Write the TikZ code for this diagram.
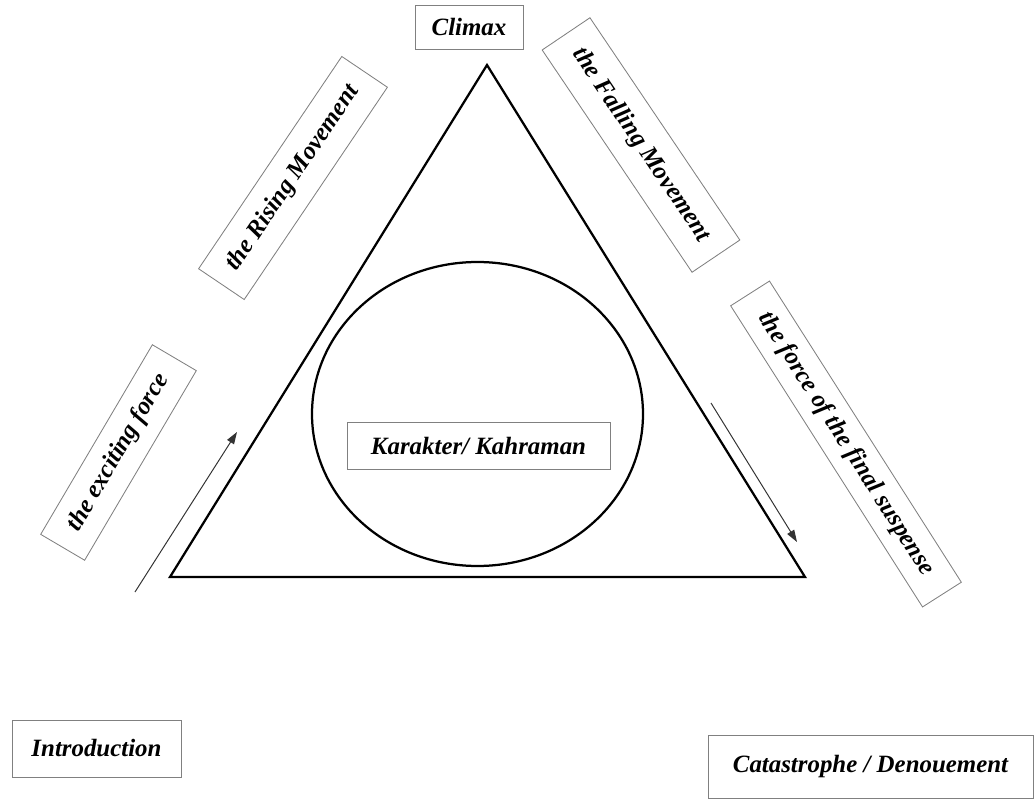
\documentclass[tikz,border=0pt]{standalone}
\usepackage{fontspec}
\setmainfont{Liberation Serif}
\usetikzlibrary{arrows.meta}

\tikzset{
  stagebox/.style={draw=gray, line width=0.6pt, inner sep=0pt,
    font=\bfseries\itshape\fontsize{17.7}{20}\selectfont},
  flow/.style={draw=black!80, line width=0.7pt, -{Triangle[length=0.3cm,width=0.2cm]}}
}

\begin{document}
\begin{tikzpicture}[x=0.025cm,y=-0.025cm]
            \useasboundingbox (0,0) rectangle (1035,801);

            \coordinate (A) at (170,577);
            \coordinate (B) at (805,577);
            \coordinate (C) at (487,65);
            \coordinate (O) at (477.5,414);

            \draw[line width=1.6pt, line join=miter] (A)--(B)--(C)--cycle;
            \draw[line width=1.6pt] (O) ellipse [x radius=165.5, y radius=152];

            \node[stagebox, minimum width=2.7cm, minimum height=1.1cm] (climax) at (469,27) {Climax};
            \node[stagebox, minimum width=6.575cm, minimum height=1.175cm] (hero) at (478.5,445.5) {Karakter/ Kahraman};
            \node[stagebox, minimum width=4.225cm, minimum height=1.425cm] (intro) at (96.5,748.5) {Introduction};
            \node[stagebox, minimum width=8.125cm, minimum height=1.575cm] (catastrophe) at (870.5,766.5) {Catastrophe / Denouement};

            \node[stagebox, rotate=56, minimum width=6.4cm, minimum height=1.375cm] (rising) at (293,178) {the Rising Movement};
            \node[stagebox, rotate=-56, minimum width=6.7cm, minimum height=1.44cm] (falling) at (641,145) {the Falling Movement};
            \node[stagebox, rotate=59.5, minimum width=5.5cm, minimum height=1.275cm] (exciting) at (118.5,452.5) {the exciting force};
            \node[stagebox, rotate=-57.5, minimum width=8.925cm, minimum height=1.15cm] (suspense) at (846,444) {the force of the final suspense};

            \coordinate (up1) at (135,592);
            \coordinate (up2) at (237,432);
            \coordinate (down1) at (711,403);
            \coordinate (down2) at (797,542);
            \draw[flow] (up1)--(up2);
            \draw[flow] (down1)--(down2);
        \end{tikzpicture}
\end{document}
